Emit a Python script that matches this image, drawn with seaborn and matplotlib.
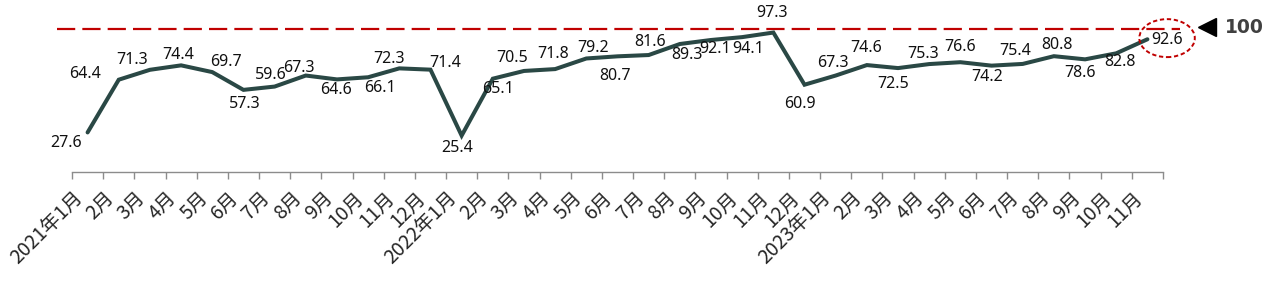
import numpy as np
import pandas as pd
import matplotlib
matplotlib.use("Agg")
import matplotlib.pyplot as plt
import seaborn as sns
from matplotlib.patches import Ellipse

# ---- data ----
months = ["2021年1月", "2月", "3月", "4月", "5月", "6月", "7月", "8月", "9月", "10月", "11月", "12月",
          "2022年1月", "2月", "3月", "4月", "5月", "6月", "7月", "8月", "9月", "10月", "11月", "12月",
          "2023年1月", "2月", "3月", "4月", "5月", "6月", "7月", "8月", "9月", "10月", "11月"]
values = [27.6, 64.4, 71.3, 74.4, 69.7, 57.3, 59.6, 67.3, 64.6, 66.1, 72.3, 71.4,
          25.4, 65.1, 70.5, 71.8, 79.2, 80.7, 81.6, 89.3, 92.1, 94.1, 97.3, 60.9,
          67.3, 74.6, 72.5, 75.3, 76.6, 74.2, 75.4, 80.8, 78.6, 82.8, 92.6]
reference_value = 100
reference_label = "100"

# label offsets in pixels (layout only)
label_offsets = [(-22, -11), (-34, 6), (-18, 10), (-3, 10), (14, 10), (1, -14), (-4, 12), (-7, 8),
                 (-1, -11), (12, -11), (-10, 9), (15, 7), (-4, -12), (5, -10), (-12, 13), (-2, 15),
                 (7, 10), (-2, -20), (1, 13), (7, -11), (4, -9), (6, -12), (-1, 20), (-5, -19),
                 (-3, 13), (-1, 17), (-5, -16), (-6, 10), (0, 15), (-4, -11), (-8, 13), (3, 11),
                 (-5, -14), (4, -9), (20, -1)]

sns.set_theme(style="white")
plt.rcParams['font.family'] = ['Noto Sans CJK SC', 'DejaVu Sans']

df = pd.DataFrame({"idx": np.arange(len(values)), "value": values})

fig = plt.figure(figsize=(12.72, 2.87), dpi=100)
ax = fig.add_axes([72 / 1272, 1 - 172 / 287, 1091 / 1272, 172 / 287])

sns.lineplot(data=df, x="idx", y="value", ax=ax, color="#2A4845", linewidth=2.9,
             solid_capstyle="round", solid_joinstyle="miter", zorder=3)

ax.set_xlim(-0.5, len(values) - 0.5)
ax.set_ylim(0, 120)

# reference dashed line
ax.plot([-0.98, 35.05], [reference_value, reference_value], color="#C00000", lw=1.6,
        linestyle=(0, (8.2, 3.2)), clip_on=False, zorder=2)

# data labels
for i, (v, off) in enumerate(zip(values, label_offsets)):
    ax.annotate(f"{v:.1f}", xy=(i, v), xytext=off, textcoords="offset pixels",
                ha="center", va="center", fontsize=11.5, color="#111111",
                family=["Noto Sans", "DejaVu Sans"], zorder=4)

# highlight ellipse around last value
last = len(values) - 1
ell = Ellipse((last + 0.63, values[-1] + 0.8), width=1.78, height=26.5, fill=False,
              edgecolor="#C00000", lw=1.4, linestyle=(0, (2.2, 1.4)), clip_on=False, zorder=5)
ax.add_patch(ell)

# triangle marker and 100 label
ax.plot([last + 1.91], [reference_value + 1], marker="<", markersize=13, color="black",
        clip_on=False, zorder=5)
ax.text(last + 3.12, reference_value + 1, reference_label, ha="center", va="center",
        fontsize=13.5, fontweight="bold", color="#404040",
        family=["DejaVu Sans"])

# axes styling
for s in ["top", "right", "left"]:
    ax.spines[s].set_visible(False)
ax.spines["bottom"].set_color("#8C8C8C")
ax.spines["bottom"].set_linewidth(1.0)
ax.set_yticks([])
ax.set_xticks(np.arange(-0.5, len(values), 1.0), minor=False)
ax.set_xticklabels([])
ax.tick_params(axis="x", which="major", direction="out", length=5, width=1.0,
               color="#8C8C8C", bottom=True)
ax.set_xticks(np.arange(len(values)), minor=True)
ax.set_xticklabels(months, minor=True, rotation=45, ha="right", fontsize=14,
                   rotation_mode="default")
ax.tick_params(axis="x", which="minor", length=0, pad=11)
ax.set_xlabel("")
ax.set_ylabel("")
ax.grid(False)

fig.savefig("out.png", dpi=100)
